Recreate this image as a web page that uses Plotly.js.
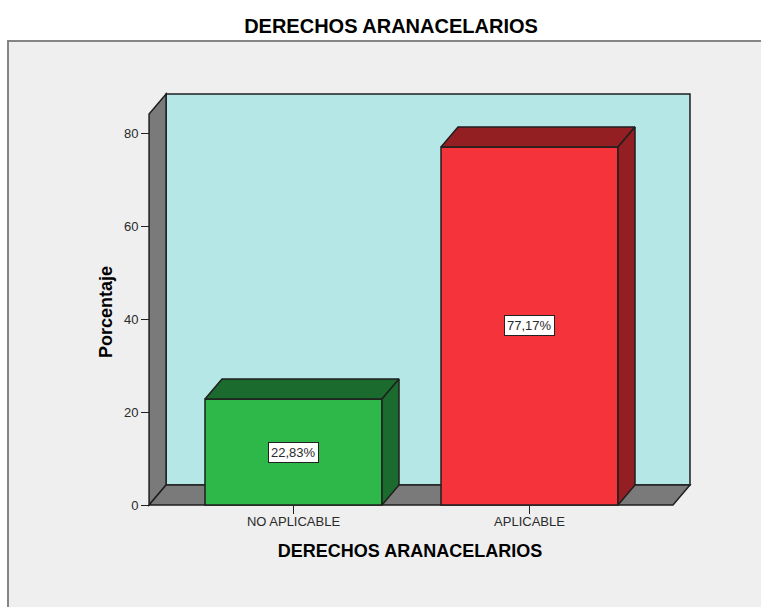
<!DOCTYPE html>
<html>
<head>
<meta charset="utf-8">
<script src="https://cdn.plot.ly/plotly-3.0.1.min.js"></script>
<style>html,body{margin:0;padding:0;background:#fff;overflow:hidden}#chart{width:761px;height:607px}</style>
</head>
<body>
<div id="chart"></div>
<script>
const categories = ["NO APLICABLE", "APLICABLE"];
const percentages = [22.83, 77.17];
const labels = ["22,83%", "77,17%"];
const frontColors = ["#2eb84a", "#f4333a"];
const sideColors = ["#1c6b2e", "#931f23"];
const yTicks = [0, 20, 40, 60, 80];

const edge = "#1f1f1f", wallGray = "#7a7a7a", wallCyan = "#b5e7e7";
const pxX = 236, pxY = 4.64;            // pixels per data unit
const barWidth = 0.75;
const dx = 17 / pxX, dy = 20 / pxY;     // oblique depth of the 3D box
const floorL = -0.612, floorR = 1.608, wallTop = 84.27;

const poly = pts => "M" + pts.map(p => p[0] + "," + p[1]).join("L") + "Z";
const wallShape = (pts, fill) => ({type:"path", xref:"x", yref:"y", layer:"below", path:poly(pts),
  fillcolor:fill, line:{color:edge, width:1.5}});

const shapes = [
  {type:"rect", xref:"paper", yref:"paper", layer:"below",
   x0:(8-127)/566, x1:(790-127)/566, y0:(533-640)/442, y1:(533-41)/442,
   fillcolor:"#efefef", line:{color:"#858585", width:2}},
  wallShape([[floorL+dx,dy],[floorR+dx,dy],[floorR+dx,wallTop+dy],[floorL+dx,wallTop+dy]], wallCyan),
  wallShape([[floorL,0],[floorL+dx,dy],[floorL+dx,wallTop+dy],[floorL,wallTop]], wallGray),
  wallShape([[floorL,0],[floorL+dx,dy],[floorR+dx,dy],[floorR,0]], wallGray)
];

const faceTrace = (pts, fill) => ({type:"scatter", mode:"lines", fill:"toself", fillcolor:fill,
  x:pts.map(p=>p[0]).concat(pts[0][0]), y:pts.map(p=>p[1]).concat(pts[0][1]),
  line:{color:edge, width:1.5}, cliponaxis:false, hoverinfo:"skip", showlegend:false});

const traces = [{
  type:"bar", x:categories.map((c,i)=>i), y:percentages, width:barWidth,
  marker:{color:frontColors, line:{color:edge, width:1.5}},
  cliponaxis:false, hoverinfo:"skip", showlegend:false
}];
percentages.forEach((v,i) => {
  const l = i - barWidth/2, r = i + barWidth/2;
  traces.push(faceTrace([[l,v],[l+dx,v+dy],[r+dx,v+dy],[r,v]], sideColors[i]));
  traces.push(faceTrace([[r,0],[r+dx,dy],[r+dx,v+dy],[r,v]], sideColors[i]));
});

const font = "'Liberation Sans', Arial, sans-serif";
const layout = {
  width:761, height:607, paper_bgcolor:"#ffffff", plot_bgcolor:"rgba(0,0,0,0)",
  margin:{l:127, r:68, t:91, b:74, pad:0},
  font:{family:font, color:"#2a2a2a", size:13},
  title:{text:"DERECHOS ARANACELARIOS", x:391/761, xanchor:"center", xref:"container",
         y:1-26/607, yanchor:"middle", yref:"container",
         font:{family:font, size:20, color:"#000000", weight:700}},
  xaxis:{range:[(127-293.5)/pxX,(693-293.5)/pxX], anchor:"free", position:28/442,
         tickmode:"array", tickvals:categories.map((c,i)=>i), ticktext:categories,
         ticks:"outside", ticklen:8, tickwidth:1, tickcolor:"#222222", ticklabelstandoff:-4,
         tickfont:{family:font, size:13, color:"#2a2a2a"},
         showgrid:false, zeroline:false, showline:false,
         title:{text:"DERECHOS ARANACELARIOS", standoff:16,
                font:{family:font, size:18, color:"#000000", weight:700}}},
  yaxis:{range:[-28/pxY,(505-91)/pxY], anchor:"free", position:22/566,
         tickmode:"array", tickvals:yTicks, ticktext:yTicks.map(String),
         ticks:"outside", ticklen:8, tickwidth:1, tickcolor:"#222222",
         tickfont:{family:font, size:13, color:"#2a2a2a"},
         showgrid:false, zeroline:false, showline:false,
         title:{text:"Porcentaje", standoff:5,
                font:{family:font, size:18, color:"#000000", weight:700}}},
  shapes:shapes,
  annotations:percentages.map((v,i)=>({x:i, y:v/2, xref:"x", yref:"y", text:labels[i], showarrow:false,
    bgcolor:"#ffffff", bordercolor:"#222222", borderwidth:1, borderpad:2,
    font:{family:font, size:13, color:"#2a2a2a"}}))
};
Plotly.newPlot("chart", traces, layout, {staticPlot:true, displayModeBar:false});
</script>
</body>
</html>
